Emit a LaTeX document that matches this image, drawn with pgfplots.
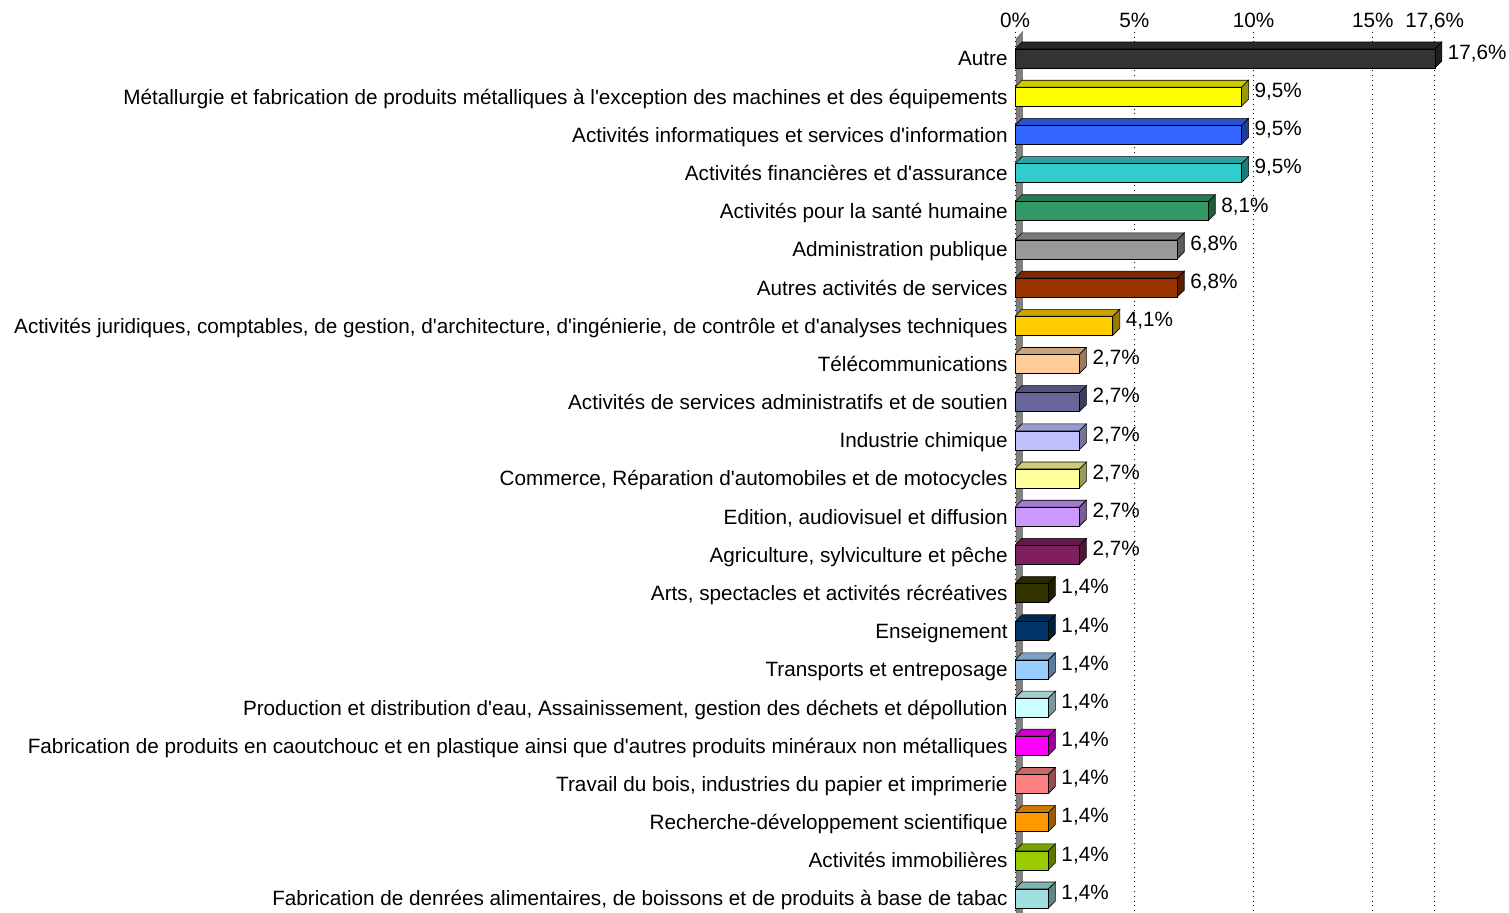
\documentclass[border=0pt]{standalone}
\usepackage{fontspec}
\setmainfont{Liberation Sans}[Ligatures=TeXOff]
\usepackage{pgfplots}
\usepackage{pgfplotstable}
\pgfplotsset{compat=1.18}
\newcommand\lbl{\fontsize{10.35}{12}\selectfont}
\definecolor{c0}{HTML}{333333}
\definecolor{c1}{HTML}{FFFF00}
\definecolor{c2}{HTML}{3366FF}
\definecolor{c3}{HTML}{33CCCC}
\definecolor{c4}{HTML}{339966}
\definecolor{c5}{HTML}{999999}
\definecolor{c6}{HTML}{993300}
\definecolor{c7}{HTML}{FFCC00}
\definecolor{c8}{HTML}{FFCC99}
\definecolor{c9}{HTML}{666699}
\definecolor{c10}{HTML}{C0C0FF}
\definecolor{c11}{HTML}{FFFF99}
\definecolor{c12}{HTML}{CC99FF}
\definecolor{c13}{HTML}{801F5E}
\definecolor{c14}{HTML}{333300}
\definecolor{c15}{HTML}{003366}
\definecolor{c16}{HTML}{99CCFF}
\definecolor{c17}{HTML}{CCFFFF}
\definecolor{c18}{HTML}{FF00FF}
\definecolor{c19}{HTML}{FF8080}
\definecolor{c20}{HTML}{FF9900}
\definecolor{c21}{HTML}{99CC00}
\definecolor{c22}{HTML}{A0E0E0}
% unit shapes of the top and side faces of a 3D bar
\pgfplotstableread[row sep=\\]{a b c\\0 0 -1\\1 0 -1\\1 1 -1\\0 1 -1\\0 0 -1\\}\topface
\pgfplotstableread[row sep=\\]{a b c\\1 0 -1\\1 1 -1\\1 1 1\\1 0 1\\1 0 -1\\}\sideface
\newcommand\tdbar[3]{%
\addplot[fill=#3!80!black,draw=black,line width=0.3pt,mark=none]
  table[x expr=\thisrow{a}*#2+\thisrow{b}*0.294, y expr=#1+\thisrow{c}*0.2488-\thisrow{b}*0.183] {\topface};
\addplot[fill=#3!60!black,draw=black,line width=0.3pt,mark=none]
  table[x expr=\thisrow{a}*#2+\thisrow{b}*0.294, y expr=#1+\thisrow{c}*0.2488-\thisrow{b}*0.183] {\sideface};
\addplot[xbar,bar width=9.5pt,bar shift=0pt,fill=#3,draw=black,line width=0.3pt,
  point meta=x,
  nodes near coords={\pgfmathprintnumber[assume math mode=true,fixed,fixed zerofill,precision=1,use comma]{\pgfplotspointmeta}\%},
  every node near coord/.style={anchor=base west,inner sep=0pt,xshift=6.4pt,yshift=-0.4pt,font=\lbl,text=black}] coordinates {(#2,#1)};
}
\begin{document}
\begin{tikzpicture}
\begin{axis}[
  at={(507.5pt,-2.3pt)}, anchor=south west, scale only axis,
  width=209.9pt, height=442.9pt,
  xmin=0, xmax=17.6, ymin=-0.7, ymax=22.5, y dir=reverse,
  axis line style={draw=none}, major tick length=0pt,
  xtick={0,5,10,15,17.6}, xticklabels={0\%,5\%,10\%,15\%,{17,6\%}},
  xticklabel pos=upper,
  xticklabel style={font=\lbl, inner sep=0pt, anchor=base, yshift=2.25pt},
  ytick={0,...,22},
  yticklabels={
    {Autre},
    {Métallurgie et fabrication de produits métalliques à l'exception des machines et des équipements},
    {Activités informatiques et services d'information},
    {Activités financières et d'assurance},
    {Activités pour la santé humaine},
    {Administration publique},
    {Autres activités de services},
    {Activités juridiques, comptables, de gestion, d'architecture, d'ingénierie, de contrôle et d'analyses techniques},
    {Télécommunications},
    {Activités de services administratifs et de soutien},
    {Industrie chimique},
    {Commerce, Réparation d'automobiles et de motocycles},
    {Edition, audiovisuel et diffusion},
    {Agriculture, sylviculture et pêche},
    {Arts, spectacles et activités récréatives},
    {Enseignement},
    {Transports et entreposage},
    {Production et distribution d'eau, Assainissement, gestion des déchets et dépollution},
    {Fabrication de produits en caoutchouc et en plastique ainsi que d'autres produits minéraux non métalliques},
    {Travail du bois, industries du papier et imprimerie},
    {Recherche-développement scientifique},
    {Activités immobilières},
    {Fabrication de denrées alimentaires, de boissons et de produits à base de tabac}},
  yticklabel style={font=\lbl, inner sep=0pt, anchor=base east, xshift=-3.5pt, yshift=-3.7pt},
  xmajorgrids=true, ymajorgrids=false,
  grid style={black, dotted, line width=0.5pt},
  clip=false,
]
\filldraw[fill=gray, draw=black!60, line width=0.3pt]
  ([xshift=0.6pt]axis cs:0,22.5) -- ([xshift=0.6pt,yshift=-3.5pt]axis cs:0,-0.7) -- ([xshift=3.8pt]axis cs:0,-0.7) -- ([xshift=3.8pt]axis cs:0,22.5) -- cycle;
\tdbar{0}{17.6}{c0}
\tdbar{1}{9.5}{c1}
\tdbar{2}{9.5}{c2}
\tdbar{3}{9.5}{c3}
\tdbar{4}{8.1}{c4}
\tdbar{5}{6.8}{c5}
\tdbar{6}{6.8}{c6}
\tdbar{7}{4.1}{c7}
\tdbar{8}{2.7}{c8}
\tdbar{9}{2.7}{c9}
\tdbar{10}{2.7}{c10}
\tdbar{11}{2.7}{c11}
\tdbar{12}{2.7}{c12}
\tdbar{13}{2.7}{c13}
\tdbar{14}{1.4}{c14}
\tdbar{15}{1.4}{c15}
\tdbar{16}{1.4}{c16}
\tdbar{17}{1.4}{c17}
\tdbar{18}{1.4}{c18}
\tdbar{19}{1.4}{c19}
\tdbar{20}{1.4}{c20}
\tdbar{21}{1.4}{c21}
\tdbar{22}{1.4}{c22}
\end{axis}
\pgfresetboundingbox
\path[use as bounding box] (0,0) rectangle (754.5pt,456.5pt);
\end{tikzpicture}
\end{document}
